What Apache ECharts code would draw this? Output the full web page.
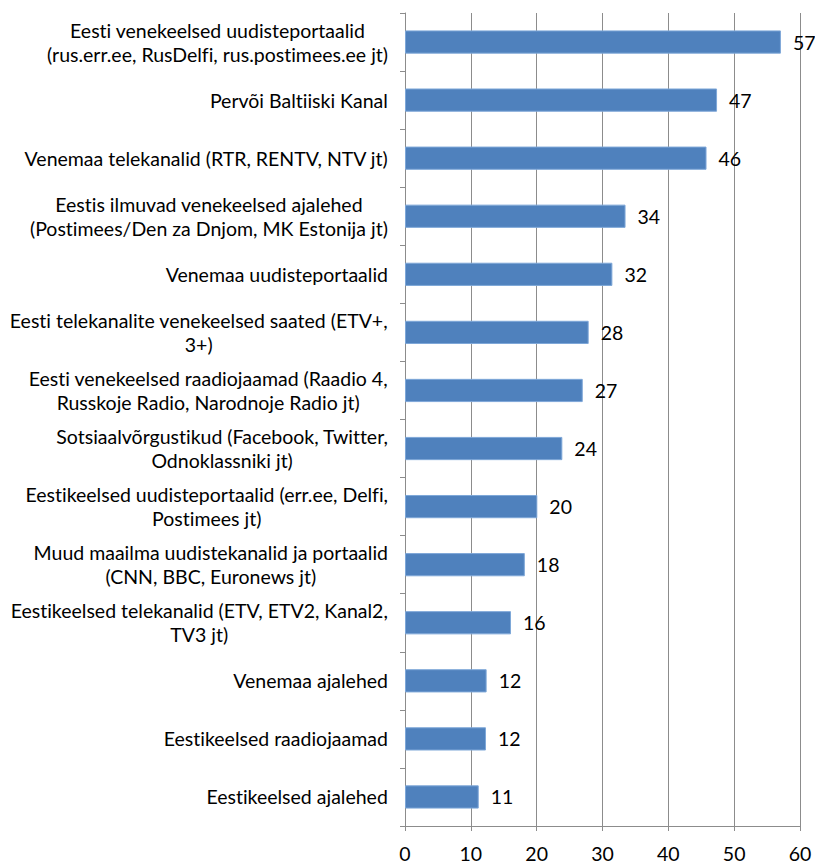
<!DOCTYPE html>
<html>
<head>
<meta charset="utf-8">
<script src="https://cdn.jsdelivr.net/npm/echarts@6/dist/echarts.min.js"></script>
<style>
  html, body { margin: 0; padding: 0; background: #fff; }
  #chart { width: 815px; height: 863px; }
  #chart text { font-variant-ligatures: none; }
</style>
</head>
<body>
<div id="chart"></div>
<script>
// categories, top to bottom (line breaks as in the original labels)
const categories = [
  "Eesti venekeelsed uudisteportaalid\n(rus.err.ee, RusDelfi, rus.postimees.ee jt)",
  "Pervõi Baltiiski Kanal",
  "Venemaa telekanalid (RTR, RENTV, NTV jt)",
  "Eestis ilmuvad venekeelsed ajalehed\n(Postimees/Den za Dnjom, MK Estonija jt)",
  "Venemaa uudisteportaalid",
  "Eesti telekanalite venekeelsed saated (ETV+,\n3+)",
  "Eesti venekeelsed raadiojaamad (Raadio 4,\nRusskoje Radio, Narodnoje Radio jt)",
  "Sotsiaalvõrgustikud (Facebook, Twitter,\nOdnoklassniki jt)",
  "Eestikeelsed uudisteportaalid (err.ee, Delfi,\nPostimees jt)",
  "Muud maailma uudistekanalid ja portaalid\n(CNN, BBC, Euronews jt)",
  "Eestikeelsed telekanalid (ETV, ETV2, Kanal2,\nTV3 jt)",
  "Venemaa ajalehed",
  "Eestikeelsed raadiojaamad",
  "Eestikeelsed ajalehed"
]

// bar lengths
const values = [57.1, 47.4, 45.8, 33.5, 31.5, 27.9, 27.0, 23.9, 20.1, 18.2, 16.1, 12.4, 12.3, 11.2]

// printed labels
const valueLabels = [57, 47, 46, 34, 32, 28, 27, 24, 20, 18, 16, 12, 12, 11]

const xTicks = { min: 0, max: 60, interval: 10 }

const font = "Lato, 'Open Sans', sans-serif"
const fontSize = 19.5
const gridColor = "#8c8c8c"

const chart = echarts.init(document.getElementById("chart"), null, { renderer: "svg" })

const option = {
  animation: false,
  backgroundColor: "#fff",
  textStyle: { fontFamily: font },
  grid: {
    left: 405,
    right: 15,
    top: 13,
    bottom: 32,
    containLabel: false
  },
  xAxis: {
    type: "value",
    min: xTicks.min,
    max: xTicks.max,
    interval: xTicks.interval,
    axisLine: { show: true, lineStyle: { color: gridColor, width: 1 } },
    axisTick: { show: true, length: 5, lineStyle: { color: gridColor } },
    splitLine: { show: true, lineStyle: { color: gridColor, width: 1 } },
    axisLabel: {
      color: "#000",
      fontSize: fontSize,
      fontFamily: font,
      margin: 17
    }
  },
  yAxis: {
    type: "category",
    inverse: true,
    data: categories,
    axisLine: { show: true, lineStyle: { color: gridColor, width: 1 } },
    axisTick: { show: true, length: 5, lineStyle: { color: gridColor } },
    axisLabel: {
      interval: 0,
      margin: 17,
      color: "#000",
      fontSize: fontSize,
      fontFamily: font,
      lineHeight: 24,
      formatter: (val) => val.split("\n").map((s) => "{c|" + s + "}").join("\n"),
      rich: {
        c: {
          align: "center",
          fontSize: fontSize,
          lineHeight: 24,
          fontFamily: font,
          color: "#000"
        }
      }
    }
  },
  series: [
    {
      type: "bar",
      data: values,
      barCategoryGap: "60%",
      itemStyle: {
        color: "#4f81bd",
        borderColor: "#7ea7d8",
        borderWidth: 1
      },
      label: {
        show: true,
        position: "right",
        distance: 12,
        color: "#000",
        fontSize: fontSize,
        fontFamily: font,
        formatter: (p) => String(valueLabels[p.dataIndex])
      }
    }
  ]
}

chart.setOption(option)
</script>
</body>
</html>
